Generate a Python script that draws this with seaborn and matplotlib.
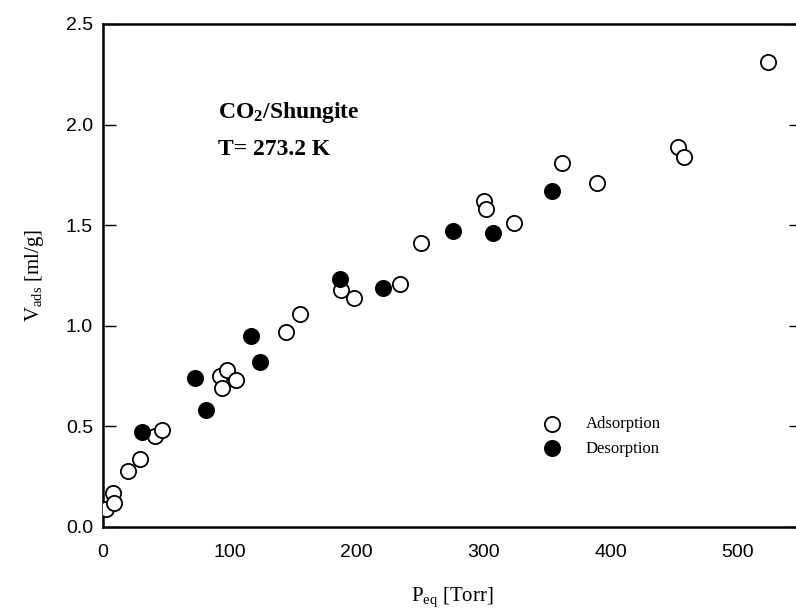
import matplotlib
matplotlib.use("Agg")
import matplotlib.pyplot as plt
import seaborn as sns
import pandas as pd

# Adsorption (open circles)
ads_p = [2.5, 8, 9, 20, 29, 41, 47, 92, 94, 98, 105, 144, 155, 188, 198, 234, 251,
         300, 302, 324, 362, 389, 453, 458, 524]
ads_v = [0.09, 0.17, 0.12, 0.28, 0.34, 0.45, 0.48, 0.75, 0.69, 0.78, 0.73, 0.97, 1.06,
         1.18, 1.14, 1.21, 1.41, 1.62, 1.58, 1.51, 1.81, 1.71, 1.89, 1.84, 2.31]
# Desorption (filled circles)
des_p = [31, 73, 81, 117, 124, 187, 221, 276, 307, 354]
des_v = [0.47, 0.74, 0.58, 0.95, 0.82, 1.23, 1.19, 1.47, 1.46, 1.67]

x_ticks = [0, 100, 200, 300, 400, 500]
y_ticks = [0.0, 0.5, 1.0, 1.5, 2.0, 2.5]

df = pd.concat([
    pd.DataFrame({"P": ads_p, "V": ads_v, "mode": "Adsorption"}),
    pd.DataFrame({"P": des_p, "V": des_v, "mode": "Desorption"}),
], ignore_index=True)

sns.set_style("white")
plt.rcParams["font.family"] = ["Liberation Sans", "DejaVu Sans"]
plt.rcParams.update({
    "text.color": "black",
    "axes.labelcolor": "black",
    "xtick.color": "black",
    "ytick.color": "black",
    "mathtext.fontset": "custom",
    "mathtext.rm": "Liberation Serif",
    "mathtext.it": "Liberation Serif:italic",
    "mathtext.bf": "Liberation Serif:bold",
})

fig = plt.figure(figsize=(7.96, 6.14), dpi=100)
ax = fig.add_axes([0.129, 0.1417, 0.8775, 0.8193])

sns.scatterplot(data=df[df["mode"] == "Adsorption"], x="P", y="V", ax=ax,
                s=120, facecolor="white", edgecolor="black", linewidth=1.3,
                label="Adsorption", zorder=3)
sns.scatterplot(data=df[df["mode"] == "Desorption"], x="P", y="V", ax=ax,
                s=120, facecolor="black", edgecolor="black", linewidth=1.3,
                label="Desorption", zorder=3)

ax.set_xlim(0, 550)
ax.set_ylim(0, 2.5)
ax.set_xticks(x_ticks)
ax.set_yticks(y_ticks)
ax.set_yticklabels([f"{v:.1f}" for v in y_ticks])

for s in ["left", "bottom", "top", "right"]:
    ax.spines[s].set_visible(True)
    ax.spines[s].set_color("black")
    ax.spines[s].set_linewidth(1.8)

ax.tick_params(axis="y", direction="in", length=9, width=1, labelsize=14,
               right=True, left=True, pad=7)
ax.tick_params(axis="x", length=0, labelsize=14, pad=12)

serif = ["Liberation Serif", "DejaVu Serif"]
ax.set_xlabel(r"P$_{\mathrm{eq}}$ [Torr]", fontsize=15, family=serif, labelpad=18)
ax.set_ylabel(r"V$_{\mathrm{ads}}$ [ml/g]", fontsize=15, family=serif, labelpad=14)

ax.text(0.165, 0.813, r"CO$_\mathbf{2}$/Shungite", transform=ax.transAxes,
        fontsize=17, fontweight="bold", family=serif, va="baseline")
ax.text(0.165, 0.740, "T= 273.2 K", transform=ax.transAxes,
        fontsize=17, fontweight="bold", family=serif, va="baseline")

leg = ax.legend(loc="center left", bbox_to_anchor=(0.598, 0.18), frameon=False,
                prop={"family": serif, "size": 12}, handletextpad=1.0,
                labelspacing=0.5, markerscale=1.0)

fig.savefig("out.png", dpi=100)
